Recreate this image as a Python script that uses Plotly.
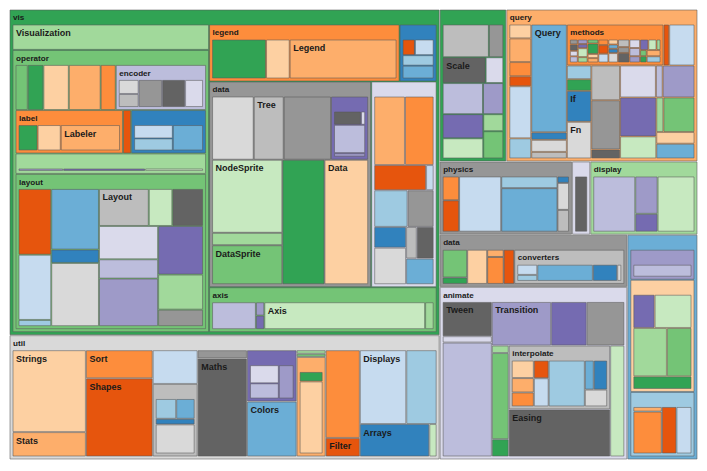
import plotly.graph_objects as go

# ---- flare hierarchy (package -> children names / sizes, 0 = sub-package) ----
root_children = ["analytics", "animate", "data", "display", "flex", "physics", "query", "scale", "util", "vis"]

analytics_children = ["cluster", "graph", "optimization"]
analytics_sizes = [0, 0, 0]
cluster_children = ["AgglomerativeCluster", "CommunityStructure", "HierarchicalCluster", "MergeEdge"]
cluster_sizes = [3938, 3812, 6714, 743]
graph_children = ["BetweennessCentrality", "LinkDistance", "MaxFlowMinCut", "ShortestPaths", "SpanningTree"]
graph_sizes = [3534, 5731, 7840, 5914, 3416]
optimization_children = ["AspectRatioBanker"]
optimization_sizes = [7074]

animate_children = ["Easing", "FunctionSequence", "interpolate", "ISchedulable", "Parallel", "Pause",
                    "Scheduler", "Sequence", "Transition", "Transitioner", "TransitionEvent", "Tween"]
animate_sizes = [17010, 5842, 0, 1041, 5176, 449, 5593, 5534, 9201, 19975, 1116, 6006]
interpolate_children = ["ArrayInterpolator", "ColorInterpolator", "DateInterpolator", "Interpolator",
                        "MatrixInterpolator", "NumberInterpolator", "ObjectInterpolator",
                        "PointInterpolator", "RectangleInterpolator"]
interpolate_sizes = [1983, 2047, 1375, 8746, 2202, 1382, 1629, 1675, 2042]

data_children = ["converters", "DataField", "DataSchema", "DataSet", "DataSource", "DataTable", "DataUtil"]
data_sizes = [0, 1759, 2165, 586, 3331, 772, 3322]
converters_children = ["Converters", "DelimitedTextConverter", "GraphMLConverter", "IDataConverter", "JSONConverter"]
converters_sizes = [721, 4294, 9800, 1314, 2220]

display_children = ["DirtySprite", "LineSprite", "RectSprite", "TextSprite"]
display_sizes = [8833, 1732, 3623, 10066]

flex_children = ["FlareVis"]
flex_sizes = [4116]

physics_children = ["DragForce", "GravityForce", "IForce", "NBodyForce", "Particle", "Simulation",
                    "Spring", "SpringForce"]
physics_sizes = [1082, 1336, 319, 10498, 2822, 9983, 2213, 1681]

query_children = ["AggregateExpression", "And", "Arithmetic", "Average", "BinaryExpression", "Comparison",
                  "CompositeExpression", "Count", "DateUtil", "Distinct", "Expression", "ExpressionIterator",
                  "Fn", "If", "IsA", "Literal", "Match", "Maximum", "methods", "Minimum", "Not", "Or",
                  "Query", "Range", "StringUtil", "Sum", "Variable", "Variance", "Xor"]
query_sizes = [1616, 1027, 3891, 891, 2893, 5103, 3677, 781, 4141, 933, 5130, 3617, 3240, 2732, 2039,
               1214, 3748, 843, 0, 843, 1554, 970, 13896, 1594, 4130, 791, 1124, 1876, 1101]
methods_children = ["add", "and", "average", "count", "distinct", "div", "eq", "fn", "gt", "gte", "iff",
                    "isa", "lt", "lte", "max", "min", "mod", "mul", "neq", "not", "or", "orderby", "range",
                    "select", "stddev", "sub", "sum", "update", "variance", "where", "xor", "_"]
methods_sizes = [593, 330, 287, 277, 292, 595, 594, 460, 603, 625, 748, 461, 597, 619, 283, 283, 591,
                 603, 599, 386, 323, 307, 772, 296, 363, 600, 280, 307, 335, 299, 354, 264]

scale_children = ["IScaleMap", "LinearScale", "LogScale", "OrdinalScale", "QuantileScale",
                  "QuantitativeScale", "RootScale", "Scale", "ScaleType", "TimeScale"]
scale_sizes = [2105, 1316, 3151, 3770, 2435, 4839, 1756, 4268, 1821, 5833]

util_children = ["Arrays", "Colors", "Dates", "Displays", "Filter", "Geometry", "heap", "IEvaluable",
                 "IPredicate", "IValueProxy", "math", "Maths", "Orientation", "palette", "Property",
                 "Shapes", "Sort", "Stats", "Strings"]
util_sizes = [8258, 10001, 8217, 12555, 2324, 10993, 0, 335, 383, 874, 0, 17705, 1486, 0, 5559,
              19118, 6887, 6557, 22026]
heap_children = ["FibonacciHeap", "HeapNode"]
heap_sizes = [9354, 1233]
math_children = ["DenseMatrix", "IMatrix", "SparseMatrix"]
math_sizes = [3165, 2815, 3366]
palette_children = ["ColorPalette", "Palette", "ShapePalette", "SizePalette"]
palette_sizes = [6367, 1229, 2059, 2291]

vis_children = ["axis", "controls", "data", "events", "legend", "operator", "Visualization"]
vis_sizes = [0, 0, 0, 0, 0, 0, 16540]
axis_children = ["Axes", "Axis", "AxisGridLine", "AxisLabel", "CartesianAxes"]
axis_sizes = [1302, 24593, 652, 636, 6703]
controls_children = ["AnchorControl", "ClickControl", "Control", "ControlList", "DragControl",
                     "ExpandControl", "HoverControl", "IControl", "PanZoomControl", "SelectionControl",
                     "TooltipControl"]
controls_sizes = [2138, 3824, 1353, 4665, 2649, 2832, 4896, 763, 5222, 7862, 8435]
visdata_children = ["Data", "DataList", "DataSprite", "EdgeSprite", "NodeSprite", "render",
                    "ScaleBinding", "Tree", "TreeBuilder"]
visdata_sizes = [20544, 19788, 10349, 3301, 19382, 0, 11275, 7147, 9930]
render_children = ["ArrowType", "EdgeRenderer", "IRenderer", "ShapeRenderer"]
render_sizes = [698, 5569, 353, 2247]
events_children = ["DataEvent", "SelectionEvent", "TooltipEvent", "VisualizationEvent"]
events_sizes = [2313, 1880, 1701, 1117]
legend_children = ["Legend", "LegendItem", "LegendRange"]
legend_sizes = [20859, 4614, 10530]
operator_children = ["distortion", "encoder", "filter", "IOperator", "label", "layout", "Operator",
                     "OperatorList", "OperatorSequence", "OperatorSwitch", "SortOperator"]
operator_sizes = [0, 0, 0, 1286, 0, 0, 2490, 5248, 4190, 2581, 2023]
distortion_children = ["BifocalDistortion", "Distortion", "FisheyeDistortion"]
distortion_sizes = [4461, 6314, 3444]
encoder_children = ["ColorEncoder", "Encoder", "PropertyEncoder", "ShapeEncoder", "SizeEncoder"]
encoder_sizes = [3179, 4060, 4138, 1690, 1830]
filter_children = ["FisheyeTreeFilter", "GraphDistanceFilter", "VisibilityFilter"]
filter_sizes = [5219, 3165, 3509]
label_children = ["Labeler", "RadialLabeler", "StackedAreaLabeler"]
label_sizes = [9956, 3899, 3202]
layout_children = ["AxisLayout", "BundledEdgeRouter", "CircleLayout", "CirclePackingLayout",
                   "DendrogramLayout", "ForceDirectedLayout", "IcicleTreeLayout", "IndentedTreeLayout",
                   "Layout", "NodeLinkTreeLayout", "PieLayout", "RadialTreeLayout", "RandomLayout",
                   "StackedAreaLayout", "TreeMapLayout"]
layout_sizes = [6725, 3727, 9317, 12003, 4853, 8411, 4864, 3174, 7881, 12870, 2728, 12348, 870,
                9121, 9191]

# node ids whose name is printed in the chart (all others stay blank)
shown_ids = ["vis", "vis.Visualization", "vis.legend", "vis.legend.Legend", "vis.operator",
             "vis.operator.encoder", "vis.operator.label", "vis.operator.label.Labeler",
             "vis.operator.layout", "vis.operator.layout.Layout", "vis.data", "vis.data.Tree",
             "vis.data.NodeSprite", "vis.data.Data", "vis.data.DataSprite", "vis.axis", "vis.axis.Axis",
             "scale.Scale", "query", "query.Query", "query.methods", "query.If", "query.Fn", "physics",
             "display", "data", "data.converters", "animate", "animate.Tween", "animate.Transition",
             "animate.interpolate", "animate.Easing", "util", "util.Strings", "util.Stats", "util.Sort",
             "util.Shapes", "util.Maths", "util.Colors", "util.Filter", "util.Displays", "util.Arrays"]

palette20 = ["#3182bd", "#6baed6", "#9ecae1", "#c6dbef", "#e6550d", "#fd8d3c", "#fdae6b", "#fdd0a2",
             "#31a354", "#74c476", "#a1d99b", "#c7e9c0", "#756bb1", "#9e9ac8", "#bcbddc", "#dadaeb",
             "#636363", "#969696", "#bdbdbd", "#d9d9d9"]

packages = {
    "": (root_children, [0] * len(root_children)),
    "analytics": (analytics_children, analytics_sizes),
    "analytics.cluster": (cluster_children, cluster_sizes),
    "analytics.graph": (graph_children, graph_sizes),
    "analytics.optimization": (optimization_children, optimization_sizes),
    "animate": (animate_children, animate_sizes),
    "animate.interpolate": (interpolate_children, interpolate_sizes),
    "data": (data_children, data_sizes),
    "data.converters": (converters_children, converters_sizes),
    "display": (display_children, display_sizes),
    "flex": (flex_children, flex_sizes),
    "physics": (physics_children, physics_sizes),
    "query": (query_children, query_sizes),
    "query.methods": (methods_children, methods_sizes),
    "scale": (scale_children, scale_sizes),
    "util": (util_children, util_sizes),
    "util.heap": (heap_children, heap_sizes),
    "util.math": (math_children, math_sizes),
    "util.palette": (palette_children, palette_sizes),
    "vis": (vis_children, vis_sizes),
    "vis.axis": (axis_children, axis_sizes),
    "vis.controls": (controls_children, controls_sizes),
    "vis.data": (visdata_children, visdata_sizes),
    "vis.data.render": (render_children, render_sizes),
    "vis.events": (events_children, events_sizes),
    "vis.legend": (legend_children, legend_sizes),
    "vis.operator": (operator_children, operator_sizes),
    "vis.operator.distortion": (distortion_children, distortion_sizes),
    "vis.operator.encoder": (encoder_children, encoder_sizes),
    "vis.operator.filter": (filter_children, filter_sizes),
    "vis.operator.label": (label_children, label_sizes),
    "vis.operator.layout": (layout_children, layout_sizes),
}

# ---- colours: one palette entry per distinct label, in pre-order ----
label_color = {"flare": palette20[0]}
def assign_colors(path):
    names, _ = packages[path]
    for nm in names:
        if nm not in label_color:
            label_color[nm] = palette20[len(label_color) % 20]
        child = nm if path == "" else path + "." + nm
        if child in packages:
            assign_colors(child)
assign_colors("")

def sibling_order(items):
    a = list(items)
    n = len(a)
    if n > 10:
        t = n >> 1
        a0, a1, at = a[0], a[1], a[t]
        a[0], a[1], a[t] = at, a0, a1
    return a[::-1]

def total(path):
    names, sizes = packages[path]
    s = 0
    for nm, v in zip(names, sizes):
        child = nm if path == "" else path + "." + nm
        s += total(child) if child in packages else v
    return s

ids, labels, parents, values, colors = [], [], [], [], []
def build(path):
    names, sizes = packages[path]
    for nm, v in sibling_order(list(zip(names, sizes))):
        child = nm if path == "" else path + "." + nm
        ids.append(child)
        labels.append(nm if child in shown_ids else " ")
        parents.append(path)
        values.append(total(child) if child in packages else v)
        colors.append(label_color[nm])
        if child in packages:
            build(child)
build("")

HEADER = 15
fig = go.Figure(go.Treemap(
    ids=ids, labels=labels, parents=parents, values=values,
    branchvalues="total", sort=False, textinfo="label",
    textposition="top left",
    marker=dict(colors=colors, line=dict(width=1, color="rgba(90,90,90,0.55)"),
                pad=dict(t=HEADER, l=3, r=3, b=3)),
    tiling=dict(squarifyratio=1.618, pad=1),
    pathbar=dict(visible=False),
    textfont=dict(family="Liberation Sans", size=9, color="#1a1a1a", weight="bold"),
    root=dict(color="white"),
))
fig.update_layout(
    width=707, height=471,
    margin=dict(l=7, r=7, t=0, b=4),
    paper_bgcolor="white",
)
post = ("document.body.style.margin='0';"
        "var g=document.getElementsByClassName('plotly-graph-div')[0];"
        "g.style.marginTop='-%dpx';" % (HEADER - 10))
fig.write_html("out.html", post_script=post, config={"displayModeBar": False})
